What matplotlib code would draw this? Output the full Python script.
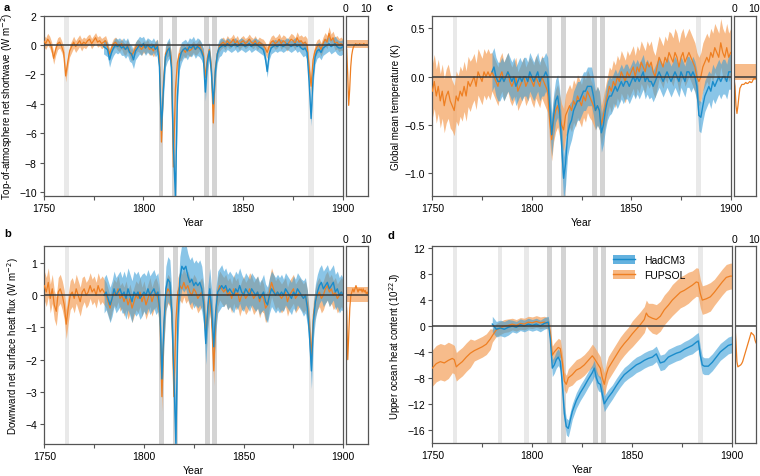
import numpy as np
import matplotlib
matplotlib.use("Agg")
import matplotlib.pyplot as plt
from matplotlib.patches import Patch
from matplotlib.lines import Line2D

plt.rcParams['font.family'] = ['Liberation Sans', 'DejaVu Sans']
plt.rcParams['font.size'] = 7.5

# ---------------- data ----------------
years_f = np.arange(1750, 1901)   # FUPSOL
years_h = np.arange(1780, 1901)   # HadCM3
t_inset = np.arange(0, 11.5, 0.5)

# a: TOA net shortwave
sw_fupsol = [0.3, 0.1, 0.4, 0.2, -0.2, -0.9, -0.3, 0.1, 0.2, -0.1,
             -0.5, -2.1, -1.2, -0.4, -0.1, 0.2, -0.1, 0.1, 0.3, 0.0,
             0.2, 0.1, 0.3, 0.4, 0.1, 0.3, 0.5, 0.2, 0.3, 0.1,
             0.2, 0.3, -0.1, -0.6, -0.2, 0.1, 0.2, 0.0, -0.1, 0.1,
             -0.2, -0.3, 0.0, -0.4, -0.7, -0.5, -0.2, 0.0, -0.1, -0.3,
             -0.1, -0.2, 0.0, -0.3, -0.2, -0.4, -0.1, 0.0, -0.8, -6.6,
             -2.5, -0.6, -0.3, -0.2, -1.0, -8.3, -3.0, -1.2, -0.6, -0.5,
             -0.3, -0.5, -0.2, -0.4, -0.3, -0.1, -0.3, -0.2, 0.0, -0.3,
             -0.6, -2.2, -0.9, -0.3, -1.5, -5.3, -1.6, -0.6, -0.1, 0.1,
             0.2, 0.0, 0.3, 0.1, 0.2, 0.4, 0.1, 0.3, 0.0, 0.2,
             0.3, 0.1, 0.2, 0.4, 0.2, 0.1, 0.3, 0.0, 0.2, 0.1,
             0.0, -0.2, -0.5, -0.1, 0.2, 0.3, 0.1, 0.2, 0.4, 0.1,
             0.3, 0.2, 0.0, 0.2, 0.4, 0.3, 0.1, 0.5, 0.2, 0.3,
             0.1, 0.2, 0.0, -1.5, -2.8, -1.0, -0.4, -0.1, 0.0, -0.3,
             0.1, 0.4, 0.2, 0.8, 0.3, 0.5, 0.1, 0.2, 0.0, 0.1,
             0.0]
sw_hadcm3 = [-0.1, -0.2, -0.3, -1.0, -0.5, -0.2, 0.0, -0.1, 0.0, -0.2,
             -0.1, -0.3, -0.1, -0.5, -0.6, -1.0, -0.4, -0.2, 0.0, -0.1,
             0.1, -0.2, 0.0, -0.1, -0.2, 0.0, -0.3, -0.1, -1.5, -5.8,
             -3.0, -0.8, -0.4, -0.2, -1.5, -7.0, -10.3, -3.5, -1.0, -0.5,
             -0.3, -0.2, -0.4, -0.1, -0.2, 0.0, -0.3, -0.1, -0.2, -0.4,
             -0.8, -3.2, -1.2, -0.4, -1.8, -4.0, -1.8, -0.6, -0.2, -0.1,
             0.0, -0.1, 0.1, 0.0, -0.1, 0.0, 0.1, -0.1, 0.0, 0.1,
             0.0, -0.1, 0.0, 0.1, -0.1, 0.0, 0.1, 0.0, -0.1, -0.2,
             -0.3, -0.8, -1.8, -0.6, -0.2, -0.1, 0.0, -0.1, 0.0, 0.0,
             -0.1, 0.0, 0.1, 0.0, -0.1, 0.0, 0.1, -0.1, 0.0, -0.2,
             -0.3, -0.2, -0.5, -2.5, -5.0, -2.2, -0.8, -0.4, -0.3, -0.5,
             -0.2, -0.1, 0.0, 0.1, -0.1, 0.0, 0.1, -0.1, -0.2, -0.2,
             -0.1]
sw_fupsol_spread = [0.4, 0.4, 0.35, 0.35, 0.4, 0.4, 0.5, 0.4, 0.35, 0.35, 0.35, 0.4, 0.4, 0.45, 0.45, 0.4]
sw_hadcm3_spread = [0.5, 0.6, 0.5, 0.7, 0.6, 0.6, 0.4, 0.4, 0.4, 0.4, 0.5, 0.5, 0.5]
sw_inset = [0.0, -0.3, -2.0, -4.1, -3.0, -1.5, -0.7, -0.3, -0.1, 0.0, 0.1, 0.0,
            0.05, 0.0, 0.1, 0.0, 0.05, 0.0, 0.1, 0.05, 0.0, 0.05, 0.0]
sw_inset_band = (-0.2, 0.35)

# b: downward net surface heat flux
hf_fupsol = [0.3, 0.1, 0.4, -0.1, 0.2, -0.3, -0.5, 0.1, 0.2, 0.0,
             -0.3, -0.9, -0.4, 0.0, 0.1, -0.1, 0.2, 0.0, -0.2, 0.1,
             0.2, 0.0, 0.1, 0.3, 0.1, 0.2, 0.0, 0.3, 0.1, 0.2,
             0.1, 0.0, -0.2, -0.4, -0.1, 0.1, 0.0, 0.2, -0.1, 0.0,
             -0.2, 0.0, -0.3, -0.1, -0.4, -0.2, 0.0, -0.1, 0.1, -0.2,
             0.0, -0.3, -0.1, 0.1, -0.2, 0.0, 0.1, -0.1, -0.6, -3.15,
             -1.0, 0.0, 0.2, 0.1, -0.5, -3.15, -0.8, 0.1, 0.3, 0.2,
             0.4, 0.2, 0.3, 0.1, 0.0, 0.2, 0.1, -0.1, 0.0, 0.1,
             -0.2, -1.2, -0.5, 0.0, -0.8, -2.35, -0.6, 0.1, 0.3, 0.2,
             0.1, 0.2, 0.0, 0.1, -0.1, 0.2, 0.0, 0.1, -0.2, 0.0,
             0.1, -0.1, 0.0, 0.2, 0.1, -0.1, 0.0, 0.1, -0.2, 0.0,
             -0.1, -0.4, -0.3, 0.1, 0.4, 0.2, 0.0, 0.1, 0.0, -0.1,
             0.0, 0.1, -0.2, 0.0, 0.1, 0.2, -0.1, 0.0, 0.1, 0.0,
             -0.1, 0.0, -0.3, -1.0, -1.9, -0.6, -0.2, 0.0, 0.1, -0.1,
             0.0, 0.2, 0.3, 0.1, 0.2, 0.0, 0.1, -0.1, 0.0, 0.1,
             0.0]
hf_hadcm3 = [0.0, 0.1, -0.1, -0.3, -0.1, 0.2, 0.0, 0.1, 0.2, 0.0,
             0.1, -0.1, 0.2, 0.0, -0.2, 0.1, 0.0, 0.1, -0.1, 0.0,
             0.1, 0.0, 0.2, 0.0, 0.1, 0.2, 0.0, 0.1, -0.5, -2.6,
             -0.9, 0.2, 0.5, 0.4, -0.6, -2.5, -4.6, -0.8, 0.5, 0.9,
             0.8, 0.9, 0.6, 0.4, 0.5, 0.3, 0.4, 0.3, 0.4, 0.2,
             -0.3, -1.5, -0.4, 0.2, -0.5, -1.6, -0.5, 0.1, 0.2, 0.3,
             0.2, 0.3, 0.1, 0.2, 0.1, 0.0, 0.2, 0.1, 0.3, 0.1,
             0.0, 0.2, 0.1, 0.0, 0.2, 0.1, 0.0, 0.1, -0.1, 0.0,
             0.1, -0.2, -0.3, 0.0, 0.2, 0.1, 0.0, 0.1, 0.0, 0.1,
             0.0, 0.2, 0.1, 0.0, -0.1, 0.1, 0.0, 0.2, 0.1, 0.0,
             -0.1, 0.0, -0.4, -1.2, -2.35, -0.8, -0.2, 0.1, 0.3, 0.4,
             0.2, 0.3, 0.4, 0.2, 0.3, 0.4, 0.1, 0.2, 0.0, 0.1,
             0.0]
hf_fupsol_spread = [0.45, 0.45, 0.4, 0.4, 0.45, 0.45, 0.45, 0.45, 0.45, 0.45, 0.5, 0.45, 0.45, 0.45, 0.45, 0.45]
hf_hadcm3_spread = [0.55, 0.65, 0.6, 0.7, 0.7, 0.65, 0.55, 0.5, 0.55, 0.5, 0.55, 0.55, 0.5]
hf_inset = [0.0, -0.5, -2.0, -1.2, -0.4, 0.0, 0.1, 0.2, 0.1, 0.2, 0.3, 0.2,
            0.1, 0.2, 0.15, 0.2, 0.1, 0.2, 0.1, 0.15, 0.05, 0.1, 0.0]
hf_inset_band = (-0.2, 0.25)

# c: global mean temperature
gmt_fupsol = [-0.15, -0.05, -0.2, -0.1, -0.25, -0.15, -0.3, -0.2, -0.15, -0.25,
              -0.3, -0.35, -0.2, -0.25, -0.15, -0.2, -0.1, -0.2, -0.05, -0.1,
              -0.05, 0.0, -0.1, 0.05, 0.0, -0.05, 0.05, 0.0, 0.05, 0.0,
              0.05, 0.0, -0.05, -0.1, 0.0, 0.05, -0.05, 0.0, 0.05, -0.05,
              -0.1, -0.05, 0.0, -0.15, -0.1, -0.05, 0.0, -0.1, -0.05, 0.0,
              -0.05, -0.1, 0.0, -0.05, -0.1, 0.0, -0.05, -0.1, -0.15, -0.45,
              -0.65, -0.45, -0.35, -0.3, -0.4, -0.5, -0.55, -0.4, -0.35, -0.3,
              -0.35, -0.25, -0.3, -0.2, -0.25, -0.3, -0.2, -0.25, -0.15, -0.2,
              -0.25, -0.3, -0.35, -0.3, -0.35, -0.5, -0.4, -0.3, -0.2, -0.1,
              -0.15, -0.05, -0.1, 0.0, -0.05, 0.05, 0.0, -0.05, 0.05, 0.0,
              0.05, 0.1, 0.0, 0.1, 0.05, 0.15, 0.1, 0.05, 0.15, 0.1,
              0.15, 0.05, 0.0, 0.1, 0.2, 0.15, 0.1, 0.2, 0.15, 0.25,
              0.2, 0.15, 0.25, 0.2, 0.1, 0.2, 0.25, 0.15, 0.2, 0.25,
              0.2, 0.15, 0.1, 0.0, -0.05, 0.0, 0.1, 0.15, 0.2, 0.15,
              0.25, 0.2, 0.3, 0.25, 0.2, 0.35, 0.25, 0.2, 0.3, 0.2,
              0.25]
gmt_hadcm3 = [0.05, 0.1, 0.0, -0.05, -0.05, 0.0, -0.05, 0.0, 0.05, 0.0,
              -0.05, 0.0, -0.1, -0.05, 0.0, -0.05, 0.0, 0.0, -0.05, 0.05,
              0.0, -0.05, 0.0, 0.05, -0.05, 0.0, 0.0, 0.05, 0.0, -0.3,
              -0.6, -0.4, -0.25, -0.2, -0.35, -0.7, -1.05, -0.9, -0.6, -0.5,
              -0.45, -0.35, -0.3, -0.25, -0.25, -0.2, -0.15, -0.15, -0.1, -0.1,
              -0.1, -0.2, -0.35, -0.3, -0.35, -0.58, -0.5, -0.35, -0.25, -0.2,
              -0.2, -0.15, -0.1, -0.15, -0.1, -0.05, -0.1, -0.05, -0.05, -0.1,
              -0.05, 0.0, -0.05, 0.0, -0.05, 0.0, 0.05, -0.05, 0.0, -0.05,
              -0.05, -0.1, -0.05, 0.0, 0.05, 0.0, -0.05, 0.0, 0.05, 0.0,
              -0.05, 0.0, 0.05, 0.0, -0.05, 0.05, 0.0, -0.05, 0.05, 0.05,
              0.0, 0.05, 0.0, -0.1, -0.4, -0.42, -0.3, -0.2, -0.15, -0.1,
              -0.15, -0.05, -0.1, -0.05, 0.0, -0.05, 0.0, 0.0, -0.05, 0.05,
              0.05]
gmt_fupsol_spread = [0.28, 0.26, 0.24, 0.2, 0.2, 0.22, 0.22, 0.22, 0.2, 0.22, 0.22, 0.22, 0.25, 0.25, 0.25, 0.25]
gmt_hadcm3_spread = [0.2, 0.2, 0.2, 0.22, 0.2, 0.2, 0.18, 0.18, 0.16, 0.16, 0.16, 0.18, 0.18]
gmt_inset = [-0.02, -0.1, -0.3, -0.38, -0.3, -0.2, -0.12, -0.1, -0.08, -0.08, -0.08, -0.07,
             -0.06, -0.07, -0.07, -0.06, -0.05, -0.06, -0.06, -0.04, -0.02, -0.02, -0.02]
gmt_inset_band = (-0.03, 0.13)

# d: upper ocean heat content (irregular year sampling)
ohc_years_f = [1750, 1752, 1754, 1756, 1758, 1760, 1761, 1762, 1763, 1765, 1767, 1769, 1771, 1773,
               1775, 1777, 1779, 1780, 1782, 1784, 1786, 1788, 1790, 1792, 1794, 1796, 1798, 1800,
               1802, 1804, 1806, 1808, 1809, 1810, 1811, 1813, 1814, 1815, 1816, 1817, 1818, 1820,
               1822, 1824, 1826, 1828, 1830, 1831, 1832, 1834, 1835, 1836, 1837, 1838, 1840, 1842,
               1844, 1846, 1848, 1850, 1852, 1854, 1856, 1857, 1858, 1860, 1862, 1864, 1866, 1868,
               1870, 1872, 1874, 1876, 1878, 1880, 1882, 1883, 1884, 1885, 1887, 1889, 1891, 1893,
               1895, 1897, 1899, 1900]
ohc_fupsol = [-6.5, -5.8, -5.5, -5.7, -5.3, -5.0, -5.2, -6.3, -6.0, -5.5, -4.8, -4.2, -3.8, -3.5,
              -3.2, -2.8, -2.0, -1.5, -0.6, -0.3, 0.0, 0.1, 0.3, 0.1, 0.4, 0.3, 0.6, 0.5,
              0.7, 0.5, 0.6, 0.4, -1.0, -4.5, -4.0, -3.3, -3.5, -5.5, -8.5, -9.0, -8.0, -7.5,
              -6.8, -6.5, -6.0, -5.3, -4.6, -5.0, -5.5, -6.5, -8.0, -9.0, -7.5, -6.5, -5.5, -4.5,
              -3.5, -2.7, -2.0, -1.2, -0.5, 0.2, 1.0, 2.0, 1.5, 1.2, 1.0, 1.5, 2.5, 3.2,
              4.0, 4.6, 5.2, 5.5, 5.9, 6.3, 6.8, 6.7, 5.0, 4.0, 4.2, 4.5, 5.2, 6.0,
              6.8, 7.5, 7.7, 7.7]
ohc_years_h = [1780, 1782, 1784, 1786, 1788, 1790, 1792, 1794, 1796, 1798, 1800, 1802, 1804, 1806,
               1808, 1809, 1810, 1811, 1812, 1813, 1814, 1815, 1816, 1817, 1818, 1819, 1820, 1822,
               1824, 1826, 1828, 1830, 1831, 1832, 1833, 1834, 1835, 1836, 1837, 1838, 1840, 1842,
               1844, 1846, 1848, 1850, 1852, 1854, 1856, 1858, 1860, 1862, 1864, 1866, 1868, 1870,
               1872, 1874, 1876, 1878, 1880, 1882, 1883, 1884, 1885, 1886, 1888, 1890, 1892, 1894,
               1896, 1898, 1900]
ohc_hadcm3 = [0.3, -0.5, -0.3, -0.5, -0.2, 0.0, -0.2, 0.2, 0.0, 0.3, 0.1, 0.3, 0.0, 0.4,
              0.6, -2.0, -6.5, -6.0, -5.2, -4.8, -5.5, -9.0, -13.5, -15.5, -15.8, -14.5, -13.2, -11.5,
              -10.3, -9.3, -8.2, -7.2, -6.5, -8.0, -8.8, -9.0, -10.5, -12.0, -11.5, -11.0, -10.2, -9.2,
              -8.3, -7.5, -7.0, -6.5, -6.0, -5.7, -5.3, -5.0, -4.8, -4.3, -5.7, -5.5, -4.8, -4.5,
              -4.2, -4.0, -3.6, -3.3, -3.0, -2.5, -2.3, -4.5, -6.0, -6.2, -6.2, -5.6, -4.8, -4.0,
              -3.5, -3.0, -2.8]
ohc_fupsol_spread = [2.8, 2.2, 1.6, 1.0, 0.9, 0.9, 1.4, 1.6, 1.8, 1.8, 2.0, 2.3, 2.4, 2.2, 2.0, 2.0]
ohc_hadcm3_spread = [1.2, 0.9, 0.9, 1.3, 1.2, 1.2, 1.1, 1.2, 1.2, 1.2, 1.3, 1.3, 1.3]
ohc_inset = [0.0, -2.5, -5.5, -6.3, -6.2, -6.1, -6.0, -5.8, -5.5, -5.0, -4.5, -4.0,
             -3.5, -3.0, -2.5, -2.0, -1.5, -1.0, -1.2, -1.3, -1.5, -2.2, -2.6]

# eruption periods (start, end, dark?)
eruptions = [(1760.3, 1762.6, False), (1807.6, 1810.0, True), (1814.5, 1817.0, True),
             (1830.5, 1833.0, True), (1834.2, 1836.8, True), (1882.7, 1885.3, False)]
extra_eruptions_d = [(1782.7, 1785.0, False), (1795.8, 1798.2, False)]

# ---------------- style ----------------
c_f_line, c_f_band = '#ee7f22', '#f5a664'
c_h_line, c_h_band = '#1a8ccb', '#3d9fd8'
spine_c = '#555555'


def spread_by_decade(years, start, halfw):
    idx = (np.asarray(years) - start) // 10
    return np.asarray(halfw)[idx.astype(int)]


def style_box(ax):
    for s in ax.spines.values():
        s.set_color(spine_c)
        s.set_linewidth(0.9)


def draw_panel(ax, axi, yf, vf, sf, yh, vh, sh, inset, inset_band, ylim, yticks, ylabel, erupt):
    for (x0, x1, dark) in erupt:
        ax.axvspan(x0, x1, color='#d4d4d4' if dark else '#e9e9e9', lw=0, zorder=0)
    vf = np.asarray(vf); vh = np.asarray(vh)
    ax.fill_between(yf, vf - sf, vf + sf, color=c_f_band, alpha=0.75, lw=0, zorder=1)
    ax.fill_between(yh, vh - sh, vh + sh, color=c_h_band, alpha=0.6, lw=0, zorder=2)
    ax.plot(yf, vf, color=c_f_line, lw=0.9, zorder=3)
    ax.plot(yh, vh, color=c_h_line, lw=1.0, zorder=4)
    ax.axhline(0, color='#3a3a3a', lw=1.1, zorder=5)
    ax.set_xlim(1750, 1900)
    ax.set_ylim(*ylim)
    ax.set_yticks(yticks)
    ax.set_xticks(np.arange(1750, 1901, 25))
    ax.set_xticklabels(['1750', '', '1800', '', '1850', '', '1900'])
    ax.tick_params(direction='out', length=3, width=0.8, color=spine_c, pad=2)
    ax.set_xlabel('Year', labelpad=3)
    ax.set_ylabel(ylabel, fontsize=7, labelpad=3)
    style_box(ax)

    if inset_band is not None:
        axi.fill_between(t_inset, inset_band[0], inset_band[1], color=c_f_band, alpha=0.75, lw=0)
    axi.plot(t_inset, inset, color=c_f_line, lw=0.9)
    axi.axhline(0, color='#3a3a3a', lw=1.1)
    axi.set_xlim(0, 11)
    axi.set_ylim(*ylim)
    axi.set_yticks([])
    axi.xaxis.tick_top()
    axi.set_xticks([0, 10])
    axi.tick_params(axis='x', length=0, pad=2)
    style_box(axi)


fig = plt.figure(figsize=(7.6, 4.77), dpi=100)
W, H = 760.0, 477.0


def add_axes(x0, x1, ytop, ybot):
    return fig.add_axes([x0 / W, 1 - ybot / H, (x1 - x0) / W, (ybot - ytop) / H])


ax_a = add_axes(43.7, 343.0, 16.7, 196.7)
ax_ai = add_axes(345.7, 367.7, 16.7, 196.7)
ax_b = add_axes(44.3, 343.3, 247.3, 445.0)
ax_bi = add_axes(345.7, 368.3, 247.3, 445.0)
ax_c = add_axes(432.3, 730.7, 16.7, 196.7)
ax_ci = add_axes(734.0, 755.7, 16.7, 196.7)
ax_d = add_axes(432.3, 732.3, 247.3, 444.3)
ax_di = add_axes(735.0, 756.0, 247.3, 444.3)

draw_panel(ax_a, ax_ai, years_f, sw_fupsol, spread_by_decade(years_f, 1750, sw_fupsol_spread),
           years_h, sw_hadcm3, spread_by_decade(years_h, 1780, sw_hadcm3_spread),
           sw_inset, sw_inset_band, (-10.25, 2.0), np.arange(-10, 3, 2),
           'Top-of-atmosphere net shortwave (W m$^{-2}$)', eruptions)
draw_panel(ax_b, ax_bi, years_f, hf_fupsol, spread_by_decade(years_f, 1750, hf_fupsol_spread),
           years_h, hf_hadcm3, spread_by_decade(years_h, 1780, hf_hadcm3_spread),
           hf_inset, hf_inset_band, (-4.62, 1.52), np.arange(-4, 2, 1),
           'Downward net surface heat flux (W m$^{-2}$)', eruptions)
draw_panel(ax_c, ax_ci, years_f, gmt_fupsol, spread_by_decade(years_f, 1750, gmt_fupsol_spread),
           years_h, gmt_hadcm3, spread_by_decade(years_h, 1780, gmt_hadcm3_spread),
           gmt_inset, gmt_inset_band, (-1.23, 0.63), [-1.0, -0.5, 0.0, 0.5],
           'Global mean temperature (K)', eruptions)
ax_c.set_yticklabels(['\u22121.0', '\u22120.5', '0.0', '0.5'])
draw_panel(ax_d, ax_di, ohc_years_f, ohc_fupsol, spread_by_decade(ohc_years_f, 1750, ohc_fupsol_spread),
           ohc_years_h, ohc_hadcm3, spread_by_decade(ohc_years_h, 1780, ohc_hadcm3_spread),
           ohc_inset, None, (-18.1, 12.3), np.arange(-16, 13, 4),
           'Upper ocean heat content (10$^{22}$J)', eruptions + extra_eruptions_d)

# panel letters
for lx, ly, letter in [(4, 3, 'a'), (4, 229, 'b'), (387, 3, 'c'), (387, 231, 'd')]:
    fig.text(lx / W, 1 - ly / H, letter, fontsize=8, fontweight='bold', va='top', ha='left')

handles = [(Patch(color=c_h_band, alpha=0.8, lw=0), Line2D([], [], color=c_h_line, lw=1.0)),
           (Patch(color=c_f_band, alpha=0.8, lw=0), Line2D([], [], color=c_f_line, lw=1.0))]
ax_d.legend(handles, ['HadCM3', 'FUPSOL'], loc='upper left', bbox_to_anchor=(0.58, 0.99),
            frameon=False, fontsize=7.5, handlelength=2.2, handleheight=1.0, borderaxespad=0.2,
            labelspacing=0.5)

fig.savefig('out.png', dpi=100)
